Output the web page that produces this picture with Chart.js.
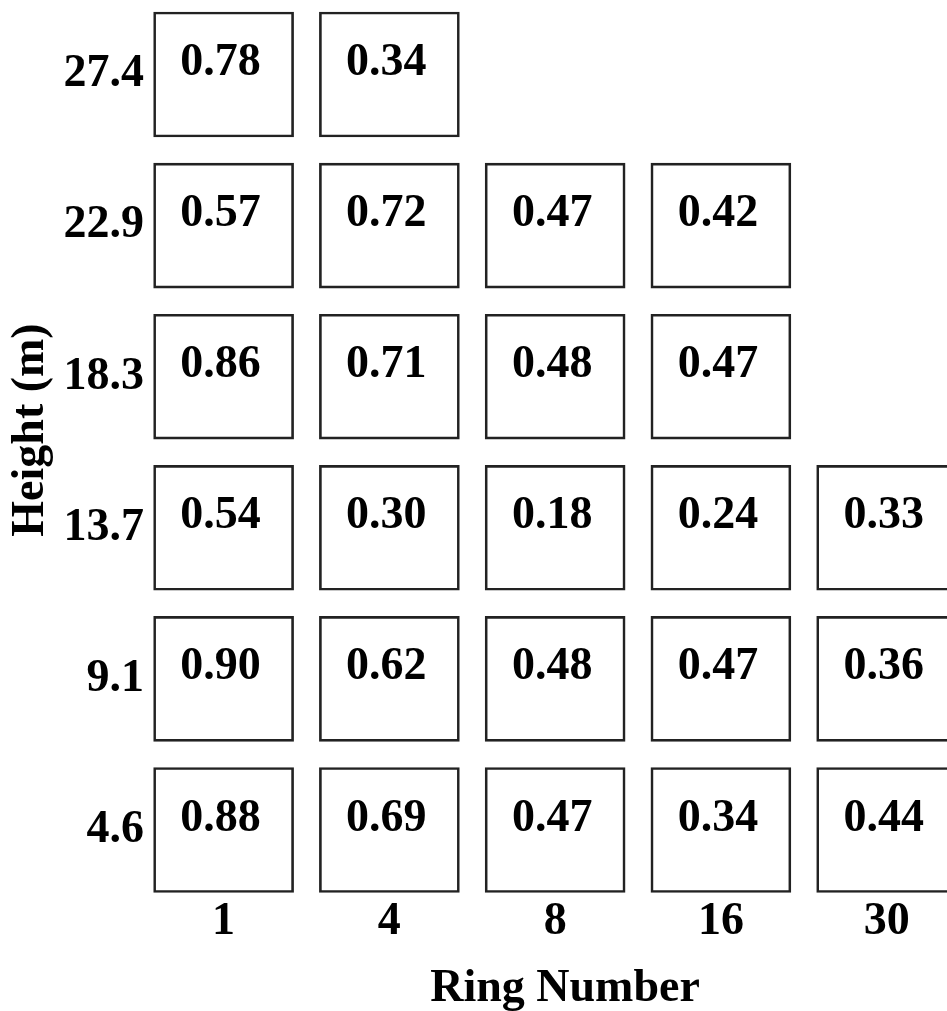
<!DOCTYPE html>
<html>
<head>
<meta charset="utf-8">
<script src="https://cdn.jsdelivr.net/npm/chart.js@4/dist/chart.umd.min.js"></script>
<style>
html,body{margin:0;padding:0;background:#fff;}
canvas{display:block;}
</style>
</head>
<body>
<canvas id="c" width="947" height="1011"></canvas>
<script>
// ---- data ----
const ringNumbers = ['1', '4', '8', '16', '30'];
const heights = ['4.6', '9.1', '13.7', '18.3', '22.9', '27.4'];
const h4_6  = [0.88, 0.69, 0.47, 0.34, 0.44];
const h9_1  = [0.90, 0.62, 0.48, 0.47, 0.36];
const h13_7 = [0.54, 0.30, 0.18, 0.24, 0.33];
const h18_3 = [0.86, 0.71, 0.48, 0.47];
const h22_9 = [0.57, 0.72, 0.47, 0.42];
const h27_4 = [0.78, 0.34];
const rows = [h4_6, h9_1, h13_7, h18_3, h22_9, h27_4];

// ---- style ----
const FONT = '"Liberation Serif", "Times New Roman", serif';
const CELL_HALF = 0.4135; // half of a cell's height in row units

Chart.defaults.font.family = FONT;
Chart.defaults.color = '#000';

const datasets = rows.map((vals, r) => ({
  label: heights[r] + ' m',
  data: vals.map((v, c) => ({ x: c, y: [r - CELL_HALF, r + CELL_HALF] })),
  backgroundColor: 'rgba(255,255,255,0)',
  borderColor: '#222',
  borderWidth: 2,
  borderSkipped: false,
  grouped: false,
  barThickness: 140,
  clip: false
}));

const valueLabels = {
  id: 'valueLabels',
  afterDatasetsDraw(chart) {
    const ctx = chart.ctx;
    ctx.save();
    ctx.font = 'bold 46px ' + FONT;
    ctx.fillStyle = '#000';
    ctx.textAlign = 'center';
    ctx.textBaseline = 'alphabetic';
    chart.data.datasets.forEach((ds, di) => {
      const meta = chart.getDatasetMeta(di);
      meta.data.forEach((el, i) => {
        const p = el.getProps(['x', 'y', 'base'], true);
        const top = Math.min(p.y, p.base);
        ctx.fillText(rows[di][i].toFixed(2), p.x - 3, top + 63);
      });
    });
    ctx.restore();
  }
};

new Chart(document.getElementById('c'), {
  type: 'bar',
  data: { datasets },
  options: {
    responsive: false,
    devicePixelRatio: 1,
    animation: false,
    layout: { padding: 0 },
    plugins: {
      legend: { display: false },
      tooltip: { enabled: false }
    },
    scales: {
      x: {
        type: 'linear',
        offset: false,
        min: -0.245,
        max: 4.364,
        grid: { display: false, drawTicks: false, offset: false },
        border: { display: false },
        afterBuildTicks: s => { s.ticks = ringNumbers.map((_, i) => ({ value: i })); },
        afterFit: s => { s.height = 151; s.paddingLeft = 0; s.paddingRight = 0; },
        ticks: {
          padding: 35,
          autoSkip: false,
          maxRotation: 0,
          color: '#000',
          font: { size: 46, weight: 'bold', family: FONT },
          callback: v => ringNumbers[v]
        },
        title: {
          display: true,
          text: 'Ring Number',
          color: '#000',
          font: { size: 46, weight: 'bold', family: FONT, lineHeight: 1 },
          padding: { top: 0, bottom: -1 }
        }
      },
      y: {
        type: 'linear',
        offset: false,
        min: -0.1985,
        max: 5.493,
        grid: { display: false, drawTicks: false },
        border: { display: false },
        afterBuildTicks: s => { s.ticks = heights.map((_, i) => ({ value: i })); },
        afterFit: s => { s.width = 183; s.paddingTop = 0; s.paddingBottom = 0; },
        ticks: {
          padding: 39,
          autoSkip: false,
          color: '#000',
          font: { size: 46, weight: 'bold', family: FONT },
          callback: v => heights[v]
        },
        title: {
          display: true,
          text: 'Height (m)',
          color: '#000',
          font: { size: 46, weight: 'bold', family: FONT },
          padding: { top: 4, bottom: 0 }
        }
      }
    }
  },
  plugins: [valueLabels]
});
</script>
</body>
</html>
